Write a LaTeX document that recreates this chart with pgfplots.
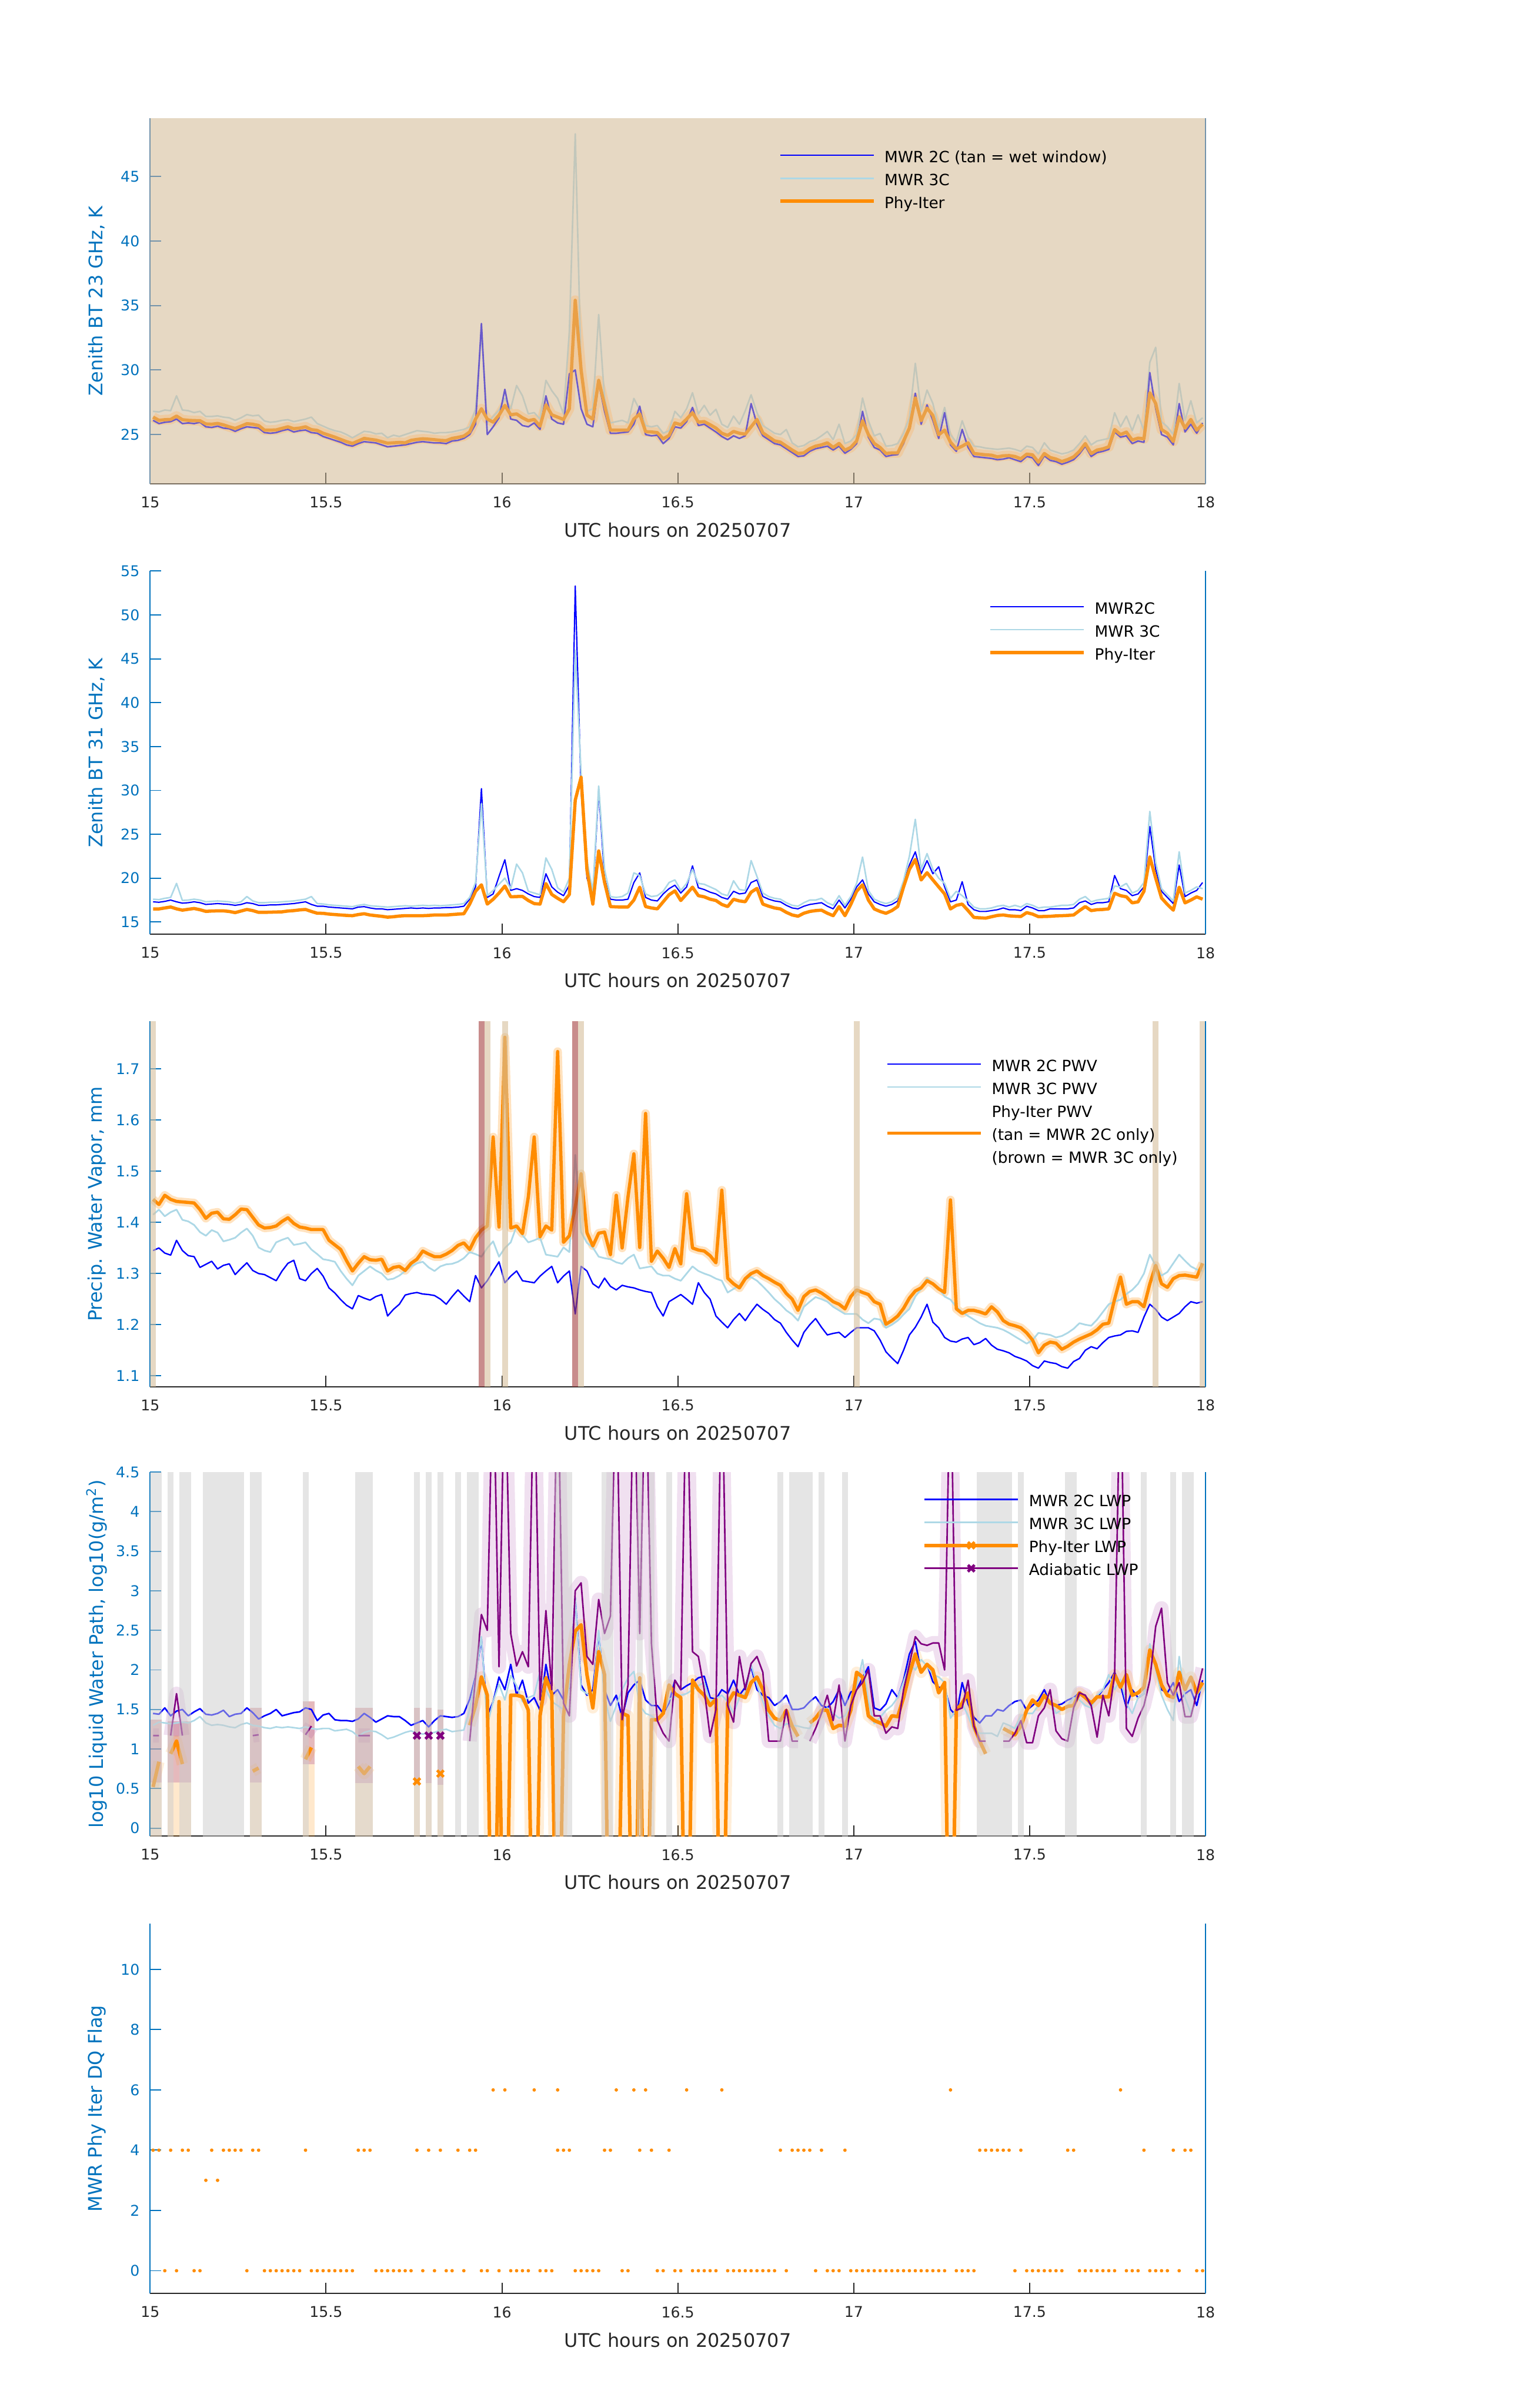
\documentclass[border=0pt]{standalone}
\usepackage{fontspec}
\setmainfont{DejaVu Sans}
\usepackage{pgfplots}
\usepackage{pgfplotstable}
\pgfplotsset{compat=1.18}

\definecolor{axblue}{HTML}{0072BD}
\definecolor{txtgray}{HTML}{262626}
\definecolor{mwrblue}{HTML}{0000FF}
\definecolor{mwrlb}{HTML}{ADD8E6}
\definecolor{phyor}{HTML}{FF8C00}
\definecolor{adpur}{HTML}{800080}
\definecolor{tanbg}{HTML}{E6D8C3}
\definecolor{tanov}{HTML}{D5BE9B}
\definecolor{brownov}{HTML}{A33F3F}
\definecolor{p1blue}{HTML}{6A5ACB}
\definecolor{p1lb}{HTML}{C2C7BB}
\definecolor{p1or}{HTML}{EAA046}
\definecolor{p1band}{HTML}{EECBA2}
\definecolor{p1ax}{HTML}{7393AB}
\definecolor{p1xax}{HTML}{7A7060}

\newcommand\ticksize{\fontsize{10.5}{12.6}\selectfont}
\newcommand\labsize{\fontsize{13.3}{16}\selectfont}
\newcommand\legsize{\fontsize{11}{16.4}\selectfont}

% one vertical band from t1 to t2, between ylo and yhi
\newcommand{\vband}[5]{\addplot[#5, draw=none, forget plot] coordinates {(#1,#3) (#1,#4) (#2,#4) (#2,#3)} --cycle;}

\pgfplotsset{
  mwrpanel/.style={
    scale only axis, width=26.29cm,
    xmin=15, xmax=18,
    xtick={15,15.5,16,16.5,17,17.5,18},
    axis lines*=left,
    axis line style={-, line width=0.8pt},
    every outer x axis line/.append style={-},
    every outer y axis line/.append style={-},
    x axis line style={-, draw=txtgray},
    y axis line style={-, draw=axblue},
    tick align=inside,
    major tick length=0.27cm,
    xtick style={draw=txtgray, line width=0.8pt},
    ytick style={draw=axblue, line width=0.8pt},
    ticklabel style={font=\ticksize},
    xticklabel style={text=txtgray, yshift=-0.2cm},
    yticklabel style={text=axblue, xshift=-0.14cm},
    /pgf/number format/assume math mode=true,
    xlabel={UTC hours on 20250707},
    every axis x label/.style={at={(axis description cs:0.5,-0.1264)}, anchor=center, font=\labsize, text=txtgray},
    every axis y label/.style={at={(axis description cs:-0.0506,0.5)}, rotate=90, anchor=center, font=\labsize, text=axblue},
    unbounded coords=jump,
    legend style={draw=none, fill=none, inner sep=0pt, outer sep=0pt, font=\legsize,
      row sep=3.3pt, column sep=0.23cm, anchor=north west, nodes={inner sep=0pt}},
    legend cell align=left,
    legend image code/.code={\draw[##1, mark=none] (0cm,0cm) -- (2.33cm,0cm);
      \draw[##1, only marks] plot coordinates {(1.165cm,0cm)};},
    every axis plot/.append style={line join=round},
  },
}

% ---------- panel 1: 23 GHz BT (a = MWR 2C, b = MWR 3C, c = Phy-Iter)
\pgfplotstableread{
k a b c
0 26.10 26.80 26.35
1 25.85 26.75 26.10
2 25.95 26.90 26.15
3 26.00 26.85 26.17
4 26.20 28.00 26.43
5 25.85 26.90 26.15
6 25.90 26.85 26.10
7 25.85 26.70 26.08
8 25.95 26.80 26.07
9 25.60 26.40 25.82
10 25.55 26.40 25.80
11 25.65 26.45 25.86
12 25.50 26.35 25.75
13 25.45 26.30 25.60
14 25.25 26.10 25.47
15 25.45 26.30 25.65
16 25.60 26.55 25.84
17 25.55 26.45 25.80
18 25.50 26.50 25.70
19 25.15 26.05 25.34
20 25.10 25.95 25.34
21 25.15 26.00 25.36
22 25.30 26.10 25.48
23 25.40 26.15 25.60
24 25.20 26.00 25.45
25 25.30 26.10 25.50
26 25.35 26.20 25.60
27 25.15 26.35 25.38
28 25.10 25.85 25.32
29 24.85 25.65 25.10
30 24.70 25.45 24.95
31 24.55 25.30 24.80
32 24.40 25.20 24.62
33 24.20 25.00 24.45
34 24.10 24.75 24.31
35 24.30 25.00 24.50
36 24.45 25.25 24.70
37 24.40 25.20 24.63
38 24.35 25.05 24.57
39 24.20 25.10 24.45
40 24.05 24.75 24.33
41 24.10 24.95 24.36
42 24.15 24.85 24.39
43 24.20 25.00 24.36
44 24.30 25.15 24.55
45 24.40 25.30 24.62
46 24.45 25.25 24.67
47 24.40 25.20 24.64
48 24.35 25.10 24.60
49 24.35 25.15 24.55
50 24.30 25.15 24.53
51 24.50 25.20 24.70
52 24.55 25.30 24.78
53 24.70 25.40 24.88
54 25.00 25.60 25.20
55 25.80 27.00 26.20
56 33.60 33.00 27.00
57 25.00 25.90 26.20
58 25.60 26.40 25.96
59 26.30 26.90 26.50
60 28.50 27.80 27.26
61 26.20 27.00 26.53
62 26.10 28.80 26.60
63 25.70 28.00 26.30
64 25.60 26.60 26.07
65 25.90 26.70 26.17
66 25.40 26.20 25.65
67 28.00 29.20 27.31
68 26.20 28.40 26.53
69 25.90 27.80 26.35
70 25.80 26.60 26.17
71 29.70 33.00 27.00
72 30.00 48.30 35.40
73 27.00 30.00 30.00
74 25.80 26.80 26.50
75 25.60 27.00 26.20
76 29.00 34.30 29.20
77 26.80 27.80 27.30
78 25.10 25.90 25.34
79 25.10 26.00 25.34
80 25.15 26.10 25.34
81 25.20 25.90 25.34
82 25.80 27.80 26.20
83 27.20 26.90 26.60
84 25.00 25.70 25.22
85 24.90 25.60 25.20
86 24.95 25.70 25.15
87 24.30 25.10 24.67
88 24.70 25.30 24.93
89 25.60 26.80 25.90
90 25.50 26.30 25.76
91 26.00 27.00 26.20
92 27.10 28.24 26.69
93 25.70 26.60 25.96
94 25.80 27.26 26.00
95 25.50 26.50 25.76
96 25.20 26.95 25.50
97 24.85 25.80 25.10
98 24.60 25.55 24.93
99 24.90 26.43 25.24
100 24.70 25.80 25.10
101 24.90 26.84 25.03
102 27.40 28.08 25.60
103 25.80 26.70 26.17
104 24.90 25.70 25.13
105 24.60 25.40 24.82
106 24.30 25.10 24.51
107 24.20 25.00 24.41
108 23.90 25.39 24.10
109 23.60 24.35 23.80
110 23.30 24.05 23.53
111 23.35 24.15 23.58
112 23.70 24.45 23.90
113 23.90 24.60 24.10
114 24.00 24.90 24.20
115 24.10 25.24 24.36
116 23.80 24.60 24.00
117 24.10 25.80 24.31
118 23.55 24.30 23.79
119 23.85 24.50 24.00
120 24.30 25.00 24.50
121 26.80 27.83 26.07
122 24.80 26.07 25.00
123 24.00 24.90 24.31
124 23.80 25.08 24.00
125 23.30 24.10 23.53
126 23.40 24.15 23.58
127 23.45 24.30 23.58
128 24.30 25.10 24.50
129 25.60 26.30 25.50
130 28.20 30.52 27.83
131 25.80 26.80 26.07
132 27.30 28.45 27.05
133 26.10 27.41 26.48
134 24.70 25.50 24.98
135 26.70 27.10 25.34
136 24.20 25.00 24.41
137 23.70 24.40 23.89
138 25.40 26.07 24.10
139 24.00 24.80 24.36
140 23.30 24.10 23.53
141 23.25 24.05 23.48
142 23.20 23.95 23.43
143 23.15 23.90 23.40
144 23.05 23.85 23.27
145 23.10 23.90 23.35
146 23.20 23.95 23.37
147 23.05 23.85 23.30
148 22.90 23.70 23.12
149 23.30 24.10 23.48
150 23.20 24.00 23.43
151 22.60 23.50 22.86
152 23.35 24.36 23.53
153 23.00 23.80 23.22
154 22.90 23.65 23.10
155 22.70 23.50 22.91
156 22.85 23.60 23.06
157 23.05 23.80 23.27
158 23.50 24.30 23.70
159 24.10 24.90 24.30
160 23.30 24.20 23.53
161 23.60 24.50 23.80
162 23.70 24.60 23.89
163 23.85 24.70 24.05
164 25.20 26.69 25.39
165 24.80 25.60 25.00
166 24.90 26.43 25.19
167 24.30 25.30 24.57
168 24.50 26.53 24.72
169 24.40 25.30 24.67
170 29.80 30.60 28.24
171 27.00 31.76 27.41
172 25.00 26.00 25.39
173 24.80 25.60 25.10
174 24.20 25.00 24.46
175 27.40 28.96 26.38
176 25.20 26.10 25.50
177 25.80 27.62 26.17
178 25.10 25.90 25.34
179 25.90 26.30 25.80
}\tabA

% ---------- panel 2: 31 GHz BT
\pgfplotstableread{
k a b c
0 17.30 17.60 16.49
1 17.25 17.55 16.49
2 17.35 17.70 16.60
3 17.50 17.80 16.71
4 17.30 19.40 16.50
5 17.15 17.45 16.35
6 17.20 17.50 16.45
7 17.30 17.60 16.54
8 17.20 17.50 16.40
9 17.00 17.30 16.21
10 17.05 17.35 16.25
11 17.10 17.40 16.27
12 17.05 17.35 16.27
13 17.00 17.30 16.20
14 16.90 17.15 16.07
15 17.00 17.30 16.25
16 17.20 17.90 16.43
17 17.10 17.40 16.30
18 16.90 17.20 16.10
19 16.90 17.20 16.10
20 16.95 17.25 16.12
21 16.95 17.25 16.14
22 17.00 17.30 16.16
23 17.05 17.35 16.25
24 17.10 17.40 16.30
25 17.20 17.50 16.38
26 17.30 17.60 16.43
27 17.00 17.90 16.20
28 16.80 17.10 16.00
29 16.80 17.05 15.99
30 16.70 16.95 15.90
31 16.65 16.90 15.85
32 16.60 16.85 15.80
33 16.55 16.80 15.75
34 16.50 16.75 15.72
35 16.70 16.90 15.85
36 16.75 17.00 15.94
37 16.60 16.85 15.80
38 16.50 16.80 15.72
39 16.50 16.75 15.65
40 16.40 16.70 15.55
41 16.45 16.75 15.60
42 16.50 16.80 15.68
43 16.55 16.85 15.72
44 16.60 16.80 15.72
45 16.55 16.85 15.72
46 16.60 16.90 15.72
47 16.55 16.85 15.75
48 16.60 16.90 15.80
49 16.60 16.85 15.80
50 16.65 16.90 15.80
51 16.65 16.95 15.85
52 16.70 17.00 15.90
53 16.80 17.10 15.94
54 17.60 17.80 17.04
55 19.00 19.50 18.50
56 30.20 28.50 19.24
57 17.80 18.00 17.04
58 18.20 18.60 17.59
59 20.20 19.30 18.30
60 22.10 20.00 19.10
61 18.60 18.80 17.87
62 18.80 21.60 17.90
63 18.60 20.60 17.92
64 18.20 18.50 17.45
65 17.90 18.30 17.10
66 17.80 18.10 17.04
67 20.50 22.30 19.38
68 19.00 21.00 18.14
69 18.40 18.90 17.70
70 18.00 18.40 17.31
71 19.20 20.00 18.14
72 53.30 46.00 28.88
73 30.00 32.00 31.50
74 20.00 22.00 20.90
75 18.00 18.50 17.04
76 30.00 30.50 23.10
77 20.00 21.00 19.52
78 17.60 17.90 16.76
79 17.50 17.80 16.72
80 17.50 17.90 16.70
81 17.60 18.30 16.71
82 19.50 20.60 17.50
83 20.60 20.30 18.97
84 17.80 18.20 16.76
85 17.50 17.90 16.60
86 17.40 18.00 16.50
87 18.20 18.50 17.30
88 18.80 19.50 18.10
89 19.20 19.80 18.55
90 18.30 18.60 17.45
91 19.00 19.40 18.20
92 21.40 21.00 18.97
93 18.90 19.40 18.00
94 18.70 19.30 17.87
95 18.40 19.00 17.60
96 18.20 18.70 17.45
97 17.80 18.20 17.00
98 17.60 18.00 16.76
99 18.50 19.70 17.59
100 18.20 18.70 17.40
101 18.30 18.60 17.31
102 19.50 22.00 18.40
103 19.80 20.20 18.83
104 17.90 18.30 17.04
105 17.60 17.90 16.80
106 17.40 17.70 16.60
107 17.30 17.60 16.49
108 16.90 17.20 16.10
109 16.60 16.90 15.80
110 16.50 16.80 15.66
111 16.80 17.20 16.00
112 17.00 17.50 16.20
113 17.10 17.50 16.30
114 17.20 17.70 16.35
115 16.80 17.20 16.00
116 16.50 16.90 15.72
117 17.50 18.00 16.76
118 16.60 16.90 15.72
119 17.60 17.90 17.00
120 19.00 19.40 18.50
121 19.80 22.40 19.24
122 18.20 18.60 17.50
123 17.30 17.60 16.49
124 17.00 17.30 16.20
125 16.80 17.10 15.99
126 17.00 17.30 16.30
127 17.40 17.80 16.76
128 19.50 19.70 19.00
129 21.50 22.50 21.00
130 23.00 26.70 22.13
131 20.50 21.00 19.79
132 22.00 22.80 20.62
133 20.50 21.00 19.80
134 21.30 20.00 19.00
135 19.00 19.40 18.20
136 17.30 17.70 16.49
137 17.50 18.50 16.90
138 19.60 18.00 17.04
139 17.00 17.40 16.30
140 16.40 16.70 15.52
141 16.20 16.50 15.48
142 16.20 16.50 15.44
143 16.30 16.60 15.60
144 16.40 16.80 15.75
145 16.60 16.90 15.80
146 16.40 16.70 15.70
147 16.40 16.90 15.66
148 16.30 16.70 15.63
149 16.80 17.10 16.07
150 16.60 16.90 15.90
151 16.30 16.60 15.61
152 16.30 16.70 15.63
153 16.50 16.70 15.65
154 16.50 16.80 15.70
155 16.50 16.90 15.72
156 16.50 16.90 15.75
157 16.60 17.00 15.80
158 17.20 17.60 16.30
159 17.40 17.90 16.76
160 17.00 17.30 16.30
161 17.20 17.50 16.40
162 17.20 17.60 16.43
163 17.30 17.70 16.50
164 20.30 19.10 18.28
165 18.80 19.00 18.00
166 18.60 19.40 17.87
167 18.00 18.30 17.18
168 18.20 18.60 17.30
169 19.00 19.50 18.50
170 25.90 27.60 22.41
171 21.00 21.80 20.00
172 18.50 18.80 17.73
173 17.80 18.10 17.00
174 17.10 17.40 16.35
175 21.50 23.00 18.97
176 17.90 18.30 17.18
177 18.30 18.60 17.50
178 18.60 19.00 17.87
179 19.50 18.80 17.60
}\tabB

% ---------- panel 3: PWV
\pgfplotstableread{
k a b c
0 1.345 1.415 1.445
1 1.350 1.425 1.435
2 1.340 1.412 1.453
3 1.336 1.420 1.445
4 1.365 1.425 1.441
5 1.345 1.405 1.440
6 1.335 1.402 1.439
7 1.333 1.395 1.438
8 1.312 1.381 1.425
9 1.318 1.374 1.408
10 1.324 1.385 1.418
11 1.309 1.380 1.420
12 1.316 1.363 1.407
13 1.319 1.366 1.406
14 1.298 1.370 1.415
15 1.310 1.380 1.426
16 1.321 1.388 1.425
17 1.306 1.374 1.410
18 1.300 1.351 1.395
19 1.298 1.345 1.389
20 1.292 1.342 1.390
21 1.286 1.361 1.393
22 1.305 1.366 1.402
23 1.320 1.370 1.409
24 1.326 1.356 1.398
25 1.290 1.358 1.391
26 1.286 1.361 1.389
27 1.300 1.347 1.386
28 1.310 1.338 1.386
29 1.295 1.328 1.386
30 1.272 1.326 1.365
31 1.262 1.323 1.356
32 1.249 1.305 1.347
33 1.238 1.290 1.325
34 1.231 1.277 1.305
35 1.257 1.296 1.320
36 1.252 1.305 1.333
37 1.248 1.314 1.327
38 1.255 1.306 1.326
39 1.259 1.300 1.328
40 1.217 1.288 1.305
41 1.230 1.290 1.312
42 1.240 1.296 1.314
43 1.258 1.305 1.306
44 1.261 1.314 1.320
45 1.263 1.320 1.328
46 1.260 1.323 1.344
47 1.259 1.312 1.338
48 1.257 1.305 1.333
49 1.250 1.314 1.333
50 1.240 1.318 1.338
51 1.255 1.319 1.345
52 1.268 1.323 1.355
53 1.256 1.330 1.360
54 1.245 1.342 1.347
55 1.296 1.338 1.370
56 1.272 1.333 1.385
57 1.286 1.350 1.393
58 1.305 1.363 1.567
59 1.323 1.333 1.391
60 1.282 1.350 1.762
61 1.295 1.361 1.389
62 1.305 1.393 1.393
63 1.286 1.375 1.378
64 1.284 1.361 1.450
65 1.282 1.365 1.567
66 1.295 1.370 1.372
67 1.305 1.337 1.393
68 1.314 1.335 1.385
69 1.282 1.333 1.734
70 1.295 1.351 1.361
71 1.305 1.342 1.374
72 1.221 1.532 1.430
73 1.314 1.381 1.495
74 1.305 1.360 1.380
75 1.280 1.351 1.354
76 1.272 1.333 1.379
77 1.291 1.330 1.381
78 1.275 1.328 1.337
79 1.268 1.322 1.453
80 1.277 1.319 1.350
81 1.274 1.330 1.450
82 1.272 1.337 1.534
83 1.268 1.310 1.351
84 1.265 1.312 1.613
85 1.263 1.314 1.324
86 1.235 1.300 1.344
87 1.217 1.296 1.330
88 1.245 1.296 1.312
89 1.252 1.290 1.349
90 1.259 1.286 1.319
91 1.250 1.300 1.456
92 1.240 1.314 1.350
93 1.282 1.305 1.346
94 1.263 1.300 1.344
95 1.250 1.296 1.335
96 1.217 1.290 1.321
97 1.205 1.286 1.463
98 1.194 1.263 1.291
99 1.210 1.270 1.280
100 1.222 1.277 1.272
101 1.208 1.290 1.290
102 1.225 1.293 1.300
103 1.240 1.286 1.305
104 1.230 1.275 1.296
105 1.222 1.263 1.290
106 1.210 1.250 1.283
107 1.203 1.240 1.277
108 1.185 1.228 1.261
109 1.170 1.220 1.250
110 1.157 1.208 1.228
111 1.185 1.235 1.255
112 1.200 1.245 1.265
113 1.212 1.254 1.268
114 1.195 1.250 1.262
115 1.180 1.245 1.254
116 1.183 1.235 1.245
117 1.185 1.228 1.240
118 1.175 1.221 1.231
119 1.185 1.221 1.255
120 1.194 1.221 1.268
121 1.194 1.210 1.263
122 1.194 1.203 1.259
123 1.188 1.212 1.245
124 1.170 1.210 1.240
125 1.147 1.194 1.201
126 1.135 1.200 1.208
127 1.124 1.208 1.217
128 1.150 1.220 1.232
129 1.180 1.231 1.252
130 1.195 1.255 1.266
131 1.215 1.270 1.272
132 1.240 1.291 1.286
133 1.205 1.280 1.280
134 1.194 1.272 1.270
135 1.175 1.255 1.263
136 1.168 1.249 1.444
137 1.166 1.235 1.231
138 1.172 1.225 1.222
139 1.175 1.217 1.228
140 1.161 1.210 1.228
141 1.165 1.203 1.225
142 1.173 1.198 1.221
143 1.160 1.196 1.235
144 1.152 1.194 1.225
145 1.149 1.190 1.208
146 1.145 1.184 1.201
147 1.138 1.177 1.198
148 1.134 1.170 1.194
149 1.129 1.163 1.184
150 1.120 1.170 1.170
151 1.115 1.184 1.145
152 1.129 1.182 1.160
153 1.126 1.180 1.166
154 1.124 1.175 1.164
155 1.118 1.178 1.152
156 1.115 1.184 1.158
157 1.128 1.192 1.166
158 1.134 1.203 1.172
159 1.150 1.200 1.177
160 1.157 1.198 1.182
161 1.153 1.210 1.190
162 1.165 1.225 1.201
163 1.175 1.240 1.203
164 1.178 1.245 1.250
165 1.180 1.249 1.293
166 1.187 1.260 1.240
167 1.188 1.268 1.245
168 1.185 1.280 1.245
169 1.215 1.300 1.235
170 1.240 1.337 1.280
171 1.230 1.315 1.316
172 1.215 1.296 1.280
173 1.208 1.303 1.273
174 1.215 1.320 1.290
175 1.222 1.337 1.296
176 1.235 1.325 1.297
177 1.245 1.314 1.295
178 1.242 1.308 1.293
179 1.245 1.305 1.320
}\tabC

% ---------- panel 4: log10 LWP (d = adiabatic)
\pgfplotstableread{
k a b c d
0 1.45 1.30 0.52 1.17
1 1.44 1.34 0.84 1.17
2 1.52 1.33 nan nan
3 1.42 1.32 0.94 1.17
4 1.48 1.33 1.10 1.70
5 1.50 1.34 0.81 1.17
6 1.42 1.33 nan nan
7 1.47 1.36 nan nan
8 1.51 1.41 nan nan
9 1.44 1.33 nan nan
10 1.43 1.30 nan nan
11 1.45 1.31 nan nan
12 1.49 1.30 nan nan
13 1.41 1.28 nan nan
14 1.44 1.27 nan nan
15 1.45 1.31 nan nan
16 1.52 1.33 nan nan
17 1.46 1.30 0.72 1.17
18 1.38 1.29 0.76 1.18
19 1.42 1.27 nan nan
20 1.45 1.26 nan nan
21 1.50 1.28 nan nan
22 1.42 1.27 nan nan
23 1.44 1.28 nan nan
24 1.46 1.27 nan nan
25 1.47 1.26 nan nan
26 1.52 1.28 0.87 1.18
27 1.50 1.26 1.02 1.29
28 1.36 1.25 nan nan
29 1.43 1.26 nan nan
30 1.45 1.26 nan nan
31 1.37 1.23 nan nan
32 1.36 1.24 nan nan
33 1.36 1.25 nan nan
34 1.35 1.22 nan nan
35 1.38 1.16 0.78 1.17
36 1.45 1.21 0.69 1.17
37 1.40 1.23 0.78 1.17
38 1.34 1.22 nan nan
39 1.38 1.18 nan nan
40 1.42 1.13 nan nan
41 1.41 1.15 nan nan
42 1.41 1.18 nan nan
43 1.36 1.21 nan nan
44 1.30 1.23 nan nan
45 1.33 1.20 nan nan
46 1.36 1.19 nan nan
47 1.28 1.20 nan nan
48 1.36 1.21 nan nan
49 1.42 1.24 nan nan
50 1.41 1.25 nan nan
51 1.40 1.22 nan nan
52 1.41 1.23 nan nan
53 1.45 1.24 nan nan
54 1.63 1.50 1.30 1.10
55 1.92 1.90 1.55 1.91
56 2.39 2.42 1.91 2.70
57 1.42 1.30 1.68 2.50
58 1.60 1.60 -3 6
59 1.91 1.82 1.60 2.04
60 1.75 1.62 -3 6
61 2.07 1.93 1.68 2.46
62 1.68 1.80 1.68 2.05
63 1.87 1.60 1.66 2.23
64 1.58 1.65 1.49 2.04
65 1.65 1.68 -3 6
66 1.49 1.98 1.42 1.62
67 2.07 1.75 1.90 2.75
68 1.68 1.60 1.70 1.75
69 1.75 1.55 -3 6
70 1.62 1.50 1.42 1.58
71 1.78 1.80 2.07 1.42
72 2.91 2.91 2.49 3.00
73 1.81 1.75 2.57 3.10
74 1.68 1.70 1.94 2.17
75 1.75 1.65 1.52 2.07
76 2.46 2.50 2.23 2.89
77 1.75 1.65 1.94 2.46
78 1.55 1.35 -3 2.68
79 1.68 1.55 -3 6
80 1.40 1.75 1.45 1.37
81 1.71 1.90 1.42 1.81
82 1.81 1.98 -3 6
83 1.87 1.55 1.90 2.46
84 1.62 1.45 -3 6
85 1.55 1.42 1.37 2.33
86 1.55 1.35 1.37 1.36
87 1.45 1.45 1.45 1.20
88 1.58 1.63 1.81 1.10
89 1.87 1.66 1.70 1.87
90 1.75 1.68 1.65 1.75
91 1.80 1.70 -3 6
92 1.84 1.75 1.87 2.23
93 1.90 1.80 1.75 2.17
94 1.92 1.84 1.68 1.75
95 1.65 1.60 1.55 1.16
96 1.63 1.64 1.63 1.50
97 1.75 1.68 -3 6
98 1.70 1.60 1.58 1.55
99 1.87 1.45 1.71 1.34
100 1.68 1.65 1.68 2.17
101 1.78 1.70 1.65 1.75
102 2.04 2.07 1.84 2.08
103 1.75 1.81 1.91 2.17
104 1.68 1.60 1.75 1.97
105 1.65 1.42 1.49 1.10
106 1.55 1.30 1.39 1.10
107 1.60 1.26 1.36 1.10
108 1.68 1.32 1.49 1.50
109 1.50 1.30 1.29 1.10
110 1.50 1.29 1.16 1.10
111 1.52 1.27 nan nan
112 1.60 1.26 1.33 1.10
113 1.66 1.42 1.39 1.26
114 1.55 1.45 1.49 1.45
115 1.52 1.52 1.49 1.68
116 1.60 1.45 1.26 1.36
117 1.75 1.39 1.30 1.81
118 1.55 1.42 1.29 1.10
119 1.72 1.55 1.49 1.55
120 1.75 1.80 1.97 1.75
121 1.90 2.13 1.91 1.84
122 2.04 1.60 1.42 2.00
123 1.52 1.32 1.36 1.42
124 1.49 1.40 1.33 1.42
125 1.57 1.49 1.29 1.20
126 1.75 1.55 1.42 1.28
127 1.65 1.65 1.41 1.26
128 1.87 1.85 1.65 1.75
129 2.20 2.07 1.95 2.07
130 2.36 2.00 2.20 2.42
131 1.97 2.13 1.97 2.33
132 2.07 2.05 2.07 2.31
133 1.85 1.94 2.00 2.34
134 1.78 1.91 1.71 2.34
135 1.78 1.84 1.84 2.00
136 1.50 1.39 -3 6
137 1.42 1.50 1.49 1.49
138 1.84 1.58 1.58 1.52
139 1.57 1.42 1.71 1.87
140 1.40 1.23 1.29 1.29
141 1.33 1.20 1.10 1.10
142 1.42 1.20 0.94 1.10
143 1.42 1.20 nan nan
144 1.50 1.16 nan nan
145 1.48 1.33 1.26 1.10
146 1.55 1.30 1.22 1.10
147 1.60 1.26 1.18 1.20
148 1.62 1.42 1.29 1.36
149 1.49 1.45 1.49 1.08
150 1.55 1.45 1.62 1.08
151 1.62 1.55 1.55 1.42
152 1.75 1.68 1.68 1.52
153 1.57 1.62 1.58 1.75
154 1.55 1.45 1.55 1.23
155 1.57 1.50 1.50 1.13
156 1.62 1.55 1.54 1.10
157 1.65 1.65 1.55 1.52
158 1.71 1.62 1.71 1.71
159 1.65 1.55 1.65 1.68
160 1.55 1.52 1.58 1.55
161 1.65 1.68 1.66 1.15
162 1.75 1.75 1.66 1.68
163 1.84 1.94 1.66 1.42
164 1.97 1.75 1.94 1.94
165 1.81 1.88 1.78 6
166 1.52 1.58 1.94 1.26
167 1.75 1.45 1.68 1.16
168 1.65 1.65 1.71 1.39
169 1.70 1.70 1.78 1.55
170 2.26 2.33 2.25 1.87
171 2.07 2.00 2.07 2.55
172 1.75 1.68 1.81 2.78
173 1.71 1.50 1.68 1.84
174 1.84 1.36 1.65 1.68
175 1.60 2.17 1.97 1.84
176 1.70 1.65 1.75 1.41
177 1.75 1.45 1.91 1.41
178 1.55 1.68 1.71 1.71
179 1.87 1.78 1.84 2.02
}\tabD

% ---------- panel 5: DQ flag
\pgfplotstableread{
k f
0 4
1 4
2 0
3 4
4 0
5 4
6 4
7 0
8 0
9 3
10 4
11 3
12 4
13 4
14 4
15 4
16 0
17 4
18 4
19 0
20 0
21 0
22 0
23 0
24 0
25 0
26 4
27 0
28 0
29 0
30 0
31 0
32 0
33 0
34 0
35 4
36 4
37 4
38 0
39 0
40 0
41 0
42 0
43 0
44 0
45 4
46 0
47 4
48 0
49 4
50 0
51 0
52 4
53 0
54 4
55 4
56 0
57 0
58 6
59 0
60 6
61 0
62 0
63 0
64 0
65 6
66 0
67 0
68 0
69 6
69 4
70 4
71 4
72 0
73 0
74 0
75 0
76 0
77 4
78 4
79 6
80 0
81 0
82 6
83 4
84 6
85 4
86 0
87 0
88 4
89 0
90 0
91 6
92 0
93 0
94 0
95 0
96 0
97 6
98 0
99 0
100 0
101 0
102 0
103 0
104 0
105 0
106 0
107 4
108 0
109 4
110 4
111 4
112 4
113 0
114 4
115 0
116 0
117 0
118 4
119 0
120 0
121 0
122 0
123 0
124 0
125 0
126 0
127 0
128 0
129 0
130 0
131 0
132 0
133 0
134 0
135 0
136 6
137 0
138 0
139 0
140 0
141 4
142 4
143 4
144 4
145 4
146 4
147 0
148 4
149 0
150 0
151 0
152 0
153 0
154 0
155 0
156 4
157 4
158 0
159 0
160 0
161 0
162 0
163 0
164 0
165 6
166 0
167 0
168 0
169 4
170 0
171 0
172 0
173 0
174 4
175 0
176 4
177 4
178 0
179 0
}\tabF

\begin{document}
\begin{tikzpicture}
\useasboundingbox (0,0) rectangle (38.25,60);

% ===== panel 1
\begin{axis}[mwrpanel, name=p1, at={(3.74cm,47.95cm)}, anchor=south west, height=9.10cm,
  ymin=21.2, ymax=49.5, ytick={25,30,35,40,45},
  ylabel={Zenith BT 23 GHz, K},
  axis background/.style={fill=tanbg},
  x axis line style={draw=p1xax}, y axis line style={draw=p1ax},
  xtick style={draw=p1xax, line width=0.8pt}, ytick style={draw=p1ax, line width=0.8pt},
  legend style={at={(0.5953,0.924)}}]
\addplot[p1band, line width=7pt, forget plot] table[x expr={15+(\thisrow{k}+0.5)/60}, y=c] {\tabA};
\addplot[p1lb, line width=1.1pt, forget plot] table[x expr={15+(\thisrow{k}+0.5)/60}, y=b] {\tabA};
\addplot[p1blue, line width=1.1pt, forget plot] table[x expr={15+(\thisrow{k}+0.5)/60}, y=a] {\tabA};
\addplot[p1or, line width=2.3pt, forget plot] table[x expr={15+(\thisrow{k}+0.5)/60}, y=c] {\tabA};
\addlegendimage{mwrblue, line width=1.1pt}\addlegendentry{\strut MWR 2C (tan = wet window)}
\addlegendimage{mwrlb, line width=1.1pt}\addlegendentry{\strut MWR 3C}
\addlegendimage{phyor, line width=2.3pt}\addlegendentry{\strut Phy-Iter}
\end{axis}
\draw[p1ax, line width=0.8pt] (p1.south east) -- (p1.north east);

% ===== panel 2
\begin{axis}[mwrpanel, name=p2, at={(3.74cm,36.72cm)}, anchor=south west, height=9.05cm,
  ymin=13.6, ymax=55, ytick={15,20,25,30,35,40,45,50,55},
  ylabel={Zenith BT 31 GHz, K},
  legend style={at={(0.7946,0.927)}}]
\addplot[mwrblue, line width=0.9pt, forget plot] table[x expr={15+(\thisrow{k}+0.5)/60}, y=a] {\tabB};
\addplot[mwrlb, line width=1.1pt, forget plot] table[x expr={15+(\thisrow{k}+0.5)/60}, y=b] {\tabB};
\addplot[phyor, line width=2.3pt, forget plot] table[x expr={15+(\thisrow{k}+0.5)/60}, y=c] {\tabB};
\addlegendimage{mwrblue, line width=1.1pt}\addlegendentry{\strut MWR2C}
\addlegendimage{mwrlb, line width=1.1pt}\addlegendentry{\strut MWR 3C}
\addlegendimage{phyor, line width=2.3pt}\addlegendentry{\strut Phy-Iter}
\end{axis}
\draw[axblue, line width=0.8pt] (p2.south east) -- (p2.north east);

% ===== panel 3
\begin{axis}[mwrpanel, name=p3, at={(3.74cm,25.45cm)}, anchor=south west, height=9.10cm,
  ymin=1.079, ymax=1.793, ytick={1.1,1.2,1.3,1.4,1.5,1.6,1.7},
  ylabel={Precip. Water Vapor, mm},
  legend style={at={(0.697,0.908)}}]
\addplot[phyor!25, line width=6pt, forget plot] table[x expr={15+(\thisrow{k}+0.5)/60}, y=c] {\tabC};
\addplot[mwrblue, line width=1.0pt, forget plot] table[x expr={15+(\thisrow{k}+0.5)/60}, y=a] {\tabC};
\addplot[mwrlb, line width=1.2pt, forget plot] table[x expr={15+(\thisrow{k}+0.5)/60}, y=b] {\tabC};
\addplot[phyor, line width=2.3pt, forget plot] table[x expr={15+(\thisrow{k}+0.5)/60}, y=c] {\tabC};
\vband{15.0000}{15.0167}{1.0}{1.9}{fill=tanov, fill opacity=0.6}
\vband{15.9333}{15.9500}{1.0}{1.9}{fill=brownov, fill opacity=0.6}
\vband{15.9500}{15.9667}{1.0}{1.9}{fill=tanov, fill opacity=0.6}
\vband{16.0000}{16.0167}{1.0}{1.9}{fill=tanov, fill opacity=0.6}
\vband{16.2000}{16.2167}{1.0}{1.9}{fill=brownov, fill opacity=0.6}
\vband{16.2167}{16.2333}{1.0}{1.9}{fill=tanov, fill opacity=0.6}
\vband{17.0000}{17.0167}{1.0}{1.9}{fill=tanov, fill opacity=0.6}
\vband{17.8500}{17.8667}{1.0}{1.9}{fill=tanov, fill opacity=0.6}
\vband{17.9833}{18.0000}{1.0}{1.9}{fill=tanov, fill opacity=0.6}
\addlegendimage{mwrblue, line width=1.1pt}\addlegendentry{\strut MWR 2C PWV}
\addlegendimage{mwrlb, line width=1.1pt}\addlegendentry{\strut MWR 3C PWV}
\addlegendimage{empty legend}\addlegendentry{\strut Phy-Iter PWV}
\addlegendimage{phyor, line width=2.3pt}\addlegendentry{\strut (tan = MWR 2C only)}
\addlegendimage{empty legend}\addlegendentry{\strut (brown = MWR 3C only)}
\end{axis}
\draw[axblue, line width=0.8pt] (p3.south east) -- (p3.north east);

% ===== panel 4
\begin{axis}[mwrpanel, name=p4, at={(3.74cm,14.25cm)}, anchor=south west, height=9.07cm,
  ymin=-0.1, ymax=4.5, ytick={0,0.5,1,1.5,2,2.5,3,3.5,4,4.5},
  ylabel={log10 Liquid Water Path, log10(g/m\textsuperscript{2})},
  legend style={at={(0.732,0.950)}}]
% uncertainty ranges of the short retrievals before 15.9 UTC
\vband{15.0000}{15.0333}{-1}{1.37}{fill=phyor, fill opacity=0.2}
\vband{15.0500}{15.1167}{-1}{1.35}{fill=phyor, fill opacity=0.2}
\vband{15.2833}{15.3167}{-1}{1.52}{fill=phyor, fill opacity=0.2}
\vband{15.4333}{15.4667}{-1}{1.60}{fill=phyor, fill opacity=0.2}
\vband{15.5833}{15.6333}{-1}{1.52}{fill=phyor, fill opacity=0.2}
\vband{15.7500}{15.7667}{-1}{1.52}{fill=phyor, fill opacity=0.2}
\vband{15.7833}{15.8000}{-1}{1.52}{fill=phyor, fill opacity=0.2}
\vband{15.8167}{15.8333}{-1}{1.50}{fill=phyor, fill opacity=0.2}
\vband{15.0000}{15.0333}{0.58}{1.37}{fill=adpur, fill opacity=0.2}
\vband{15.0500}{15.1167}{0.58}{1.35}{fill=adpur, fill opacity=0.2}
\vband{15.2833}{15.3167}{0.58}{1.52}{fill=adpur, fill opacity=0.2}
\vband{15.4333}{15.4667}{0.81}{1.60}{fill=adpur, fill opacity=0.2}
\vband{15.5833}{15.6333}{0.57}{1.52}{fill=adpur, fill opacity=0.2}
\vband{15.7500}{15.7667}{0.57}{1.52}{fill=adpur, fill opacity=0.2}
\vband{15.7833}{15.8000}{0.57}{1.52}{fill=adpur, fill opacity=0.2}
\vband{15.8167}{15.8333}{0.55}{1.50}{fill=adpur, fill opacity=0.2}
\addplot[adpur, line width=10pt, draw opacity=0.12, forget plot] table[x expr={15+(\thisrow{k}+0.5)/60}, y=d] {\tabD};
\addplot[phyor, line width=8pt, draw opacity=0.15, forget plot] table[x expr={15+(\thisrow{k}+0.5)/60}, y=c] {\tabD};
\addplot[mwrblue, line width=1.1pt, forget plot] table[x expr={15+(\thisrow{k}+0.5)/60}, y=a] {\tabD};
\addplot[mwrlb, line width=1.1pt, forget plot] table[x expr={15+(\thisrow{k}+0.5)/60}, y=b] {\tabD};
\addplot[phyor, line width=2.5pt, forget plot] table[x expr={15+(\thisrow{k}+0.5)/60}, y=c] {\tabD};
\addplot[adpur, line width=1.1pt, forget plot] table[x expr={15+(\thisrow{k}+0.5)/60}, y=d] {\tabD};
\addplot[phyor, only marks, mark=x, mark size=3.3pt, mark options={line width=2pt}, forget plot]
  coordinates {(15.7583,0.59) (15.8250,0.69)};
\addplot[adpur, only marks, mark=x, mark size=3.3pt, mark options={line width=2pt}, forget plot]
  coordinates {(15.7583,1.17) (15.7917,1.17) (15.8250,1.17)};
\vband{15.0000}{15.0333}{-1}{5}{fill=black!20, fill opacity=0.5}
\vband{15.0500}{15.0667}{-1}{5}{fill=black!20, fill opacity=0.5}
\vband{15.0833}{15.1167}{-1}{5}{fill=black!20, fill opacity=0.5}
\vband{15.1500}{15.2667}{-1}{5}{fill=black!20, fill opacity=0.5}
\vband{15.2833}{15.3167}{-1}{5}{fill=black!20, fill opacity=0.5}
\vband{15.4333}{15.4500}{-1}{5}{fill=black!20, fill opacity=0.5}
\vband{15.5833}{15.6333}{-1}{5}{fill=black!20, fill opacity=0.5}
\vband{15.7500}{15.7667}{-1}{5}{fill=black!20, fill opacity=0.5}
\vband{15.7833}{15.8000}{-1}{5}{fill=black!20, fill opacity=0.5}
\vband{15.8167}{15.8333}{-1}{5}{fill=black!20, fill opacity=0.5}
\vband{15.8667}{15.8833}{-1}{5}{fill=black!20, fill opacity=0.5}
\vband{15.9000}{15.9333}{-1}{5}{fill=black!20, fill opacity=0.5}
\vband{16.1500}{16.2000}{-1}{5}{fill=black!20, fill opacity=0.5}
\vband{16.2833}{16.3167}{-1}{5}{fill=black!20, fill opacity=0.5}
\vband{16.3833}{16.4000}{-1}{5}{fill=black!20, fill opacity=0.5}
\vband{16.4167}{16.4333}{-1}{5}{fill=black!20, fill opacity=0.5}
\vband{16.4667}{16.4833}{-1}{5}{fill=black!20, fill opacity=0.5}
\vband{16.7833}{16.8000}{-1}{5}{fill=black!20, fill opacity=0.5}
\vband{16.8167}{16.8833}{-1}{5}{fill=black!20, fill opacity=0.5}
\vband{16.9000}{16.9167}{-1}{5}{fill=black!20, fill opacity=0.5}
\vband{16.9667}{16.9833}{-1}{5}{fill=black!20, fill opacity=0.5}
\vband{17.3500}{17.4500}{-1}{5}{fill=black!20, fill opacity=0.5}
\vband{17.4667}{17.4833}{-1}{5}{fill=black!20, fill opacity=0.5}
\vband{17.6000}{17.6333}{-1}{5}{fill=black!20, fill opacity=0.5}
\vband{17.8167}{17.8333}{-1}{5}{fill=black!20, fill opacity=0.5}
\vband{17.9000}{17.9167}{-1}{5}{fill=black!20, fill opacity=0.5}
\vband{17.9333}{17.9667}{-1}{5}{fill=black!20, fill opacity=0.5}
\addlegendimage{mwrblue, line width=1.1pt}\addlegendentry{\strut MWR 2C LWP}
\addlegendimage{mwrlb, line width=1.1pt}\addlegendentry{\strut MWR 3C LWP}
\addlegendimage{phyor, line width=2.5pt, mark=x, mark size=3.3pt, mark options={line width=2pt}}\addlegendentry{\strut Phy-Iter LWP}
\addlegendimage{adpur, line width=1.1pt, mark=x, mark size=3.3pt, mark options={line width=2pt}}\addlegendentry{\strut Adiabatic LWP}
\end{axis}
\draw[axblue, line width=0.8pt] (p4.south east) -- (p4.north east);

% ===== panel 5
\begin{axis}[mwrpanel, name=p5, at={(3.74cm,2.85cm)}, anchor=south west, height=9.22cm,
  ymin=-0.76, ymax=11.52, ytick={0,2,4,6,8,10},
  ylabel={MWR Phy Iter DQ Flag}]
\addplot[phyor, only marks, mark=*, mark size=1.0pt, forget plot] table[x expr={15+(\thisrow{k}+0.5)/60}, y=f] {\tabF};
\end{axis}
\draw[axblue, line width=0.8pt] (p5.south east) -- (p5.north east);
\end{tikzpicture}
\end{document}
